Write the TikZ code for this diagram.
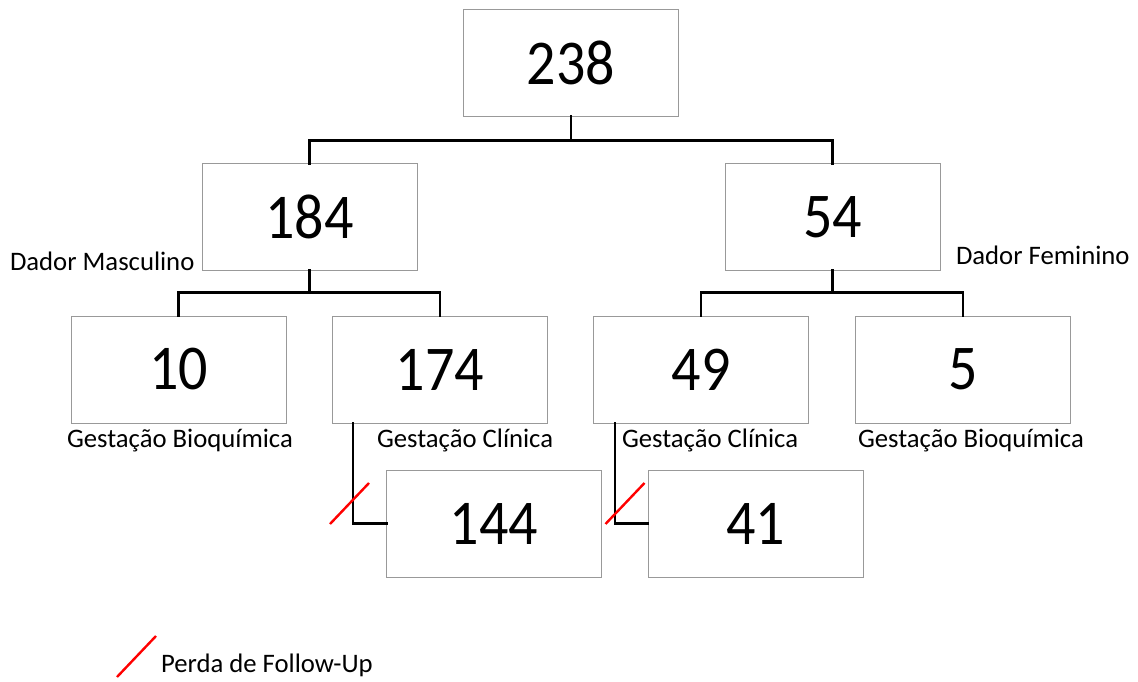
\documentclass[tikz,border=0pt]{standalone}
\usepackage{fontspec}
\setmainfont{Carlito}
\usetikzlibrary{calc}
\newcommand{\cnt}[1]{\scalebox{1}[1.1]{#1}}
\begin{document}
\begin{tikzpicture}[x=1pt,y=-1pt,line join=miter,line cap=rect]
\tikzset{every node/.style={inner sep=0pt,outer sep=0pt}}
\tikzset{countbox/.style={draw=black!40,line width=1pt,minimum width=215pt,minimum height=107pt,font=\fontsize{58}{60}\selectfont}}
\tikzset{tag/.style={font=\fontsize{26.7}{28}\selectfont,anchor=base west}}
\tikzset{link/.style={draw=black,line width=2.2pt}}
\tikzset{lost/.style={draw=red,line width=2.4pt,line cap=butt}}
\useasboundingbox (0,0) rectangle (1138,682);
% boxes
\node[countbox] (n238) at (571,63) {\cnt{238}};
\node[countbox] (n184) at (309.5,217) {\cnt{184}};
\node[countbox] (n54) at (832.5,217) {\cnt{54}};
\node[countbox] (n10) at (178.5,369.5) {\cnt{10}};
\node[countbox] (n174) at (440,369.5) {\cnt{174}};
\node[countbox] (n49) at (701,369.5) {\cnt{49}};
\node[countbox] (n5) at (963,369.5) {\cnt{5}};
\node[countbox] (n144) at (494,523.5) {\cnt{144}};
\node[countbox] (n41) at (755.5,523.5) {\cnt{41}};
% labels
\node[tag] (tdm) at (10,270) {Dador Masculino};
\node[tag] (tdf) at (956,264) {Dador Feminino};
\node[tag] (tgb1) at (67,447) {Gestação Bioquímica};
\node[tag] (tgc1) at (377,447) {Gestação Clínica};
\node[tag] (tgc2) at (622,447) {Gestação Clínica};
\node[tag] (tgb2) at (858,447) {Gestação Bioquímica};
% connectors
\draw[link] (n238.south) -- ++(0,24) coordinate (j1);
\draw[link] (n184.north) |- (j1) -| (n54.north);
\draw[link] (n184.south) -- ++(0,22) coordinate (j2);
\draw[link] (n10.north) |- (j2) -| (n174.north);
\draw[link] (n54.south) -- ++(0,22) coordinate (j3);
\draw[link] (n49.north) |- (j3) -| (n5.north);
\draw[link] ([xshift=-87]n174.south) |- (n144.west);
\draw[link] ([xshift=-86]n49.south) |- (n41.west);
% follow-up losses
\coordinate (cut1) at (349.5,503.5);
\coordinate (cut2) at (625,503.5);
\draw[lost] ($(cut1)+(-19.5,20.5)$) -- ($(cut1)+(19.5,-20.5)$);
\draw[lost] ($(cut2)+(-19.5,20.5)$) -- ($(cut2)+(19.5,-20.5)$);
% legend
\coordinate (leg) at (136.5,656.5);
\draw[lost] ($(leg)+(-19.5,20.5)$) -- ($(leg)+(19.5,-20.5)$);
\node[tag] (tleg) at (161,672) {Perda de Follow-Up};
\end{tikzpicture}
\end{document}
